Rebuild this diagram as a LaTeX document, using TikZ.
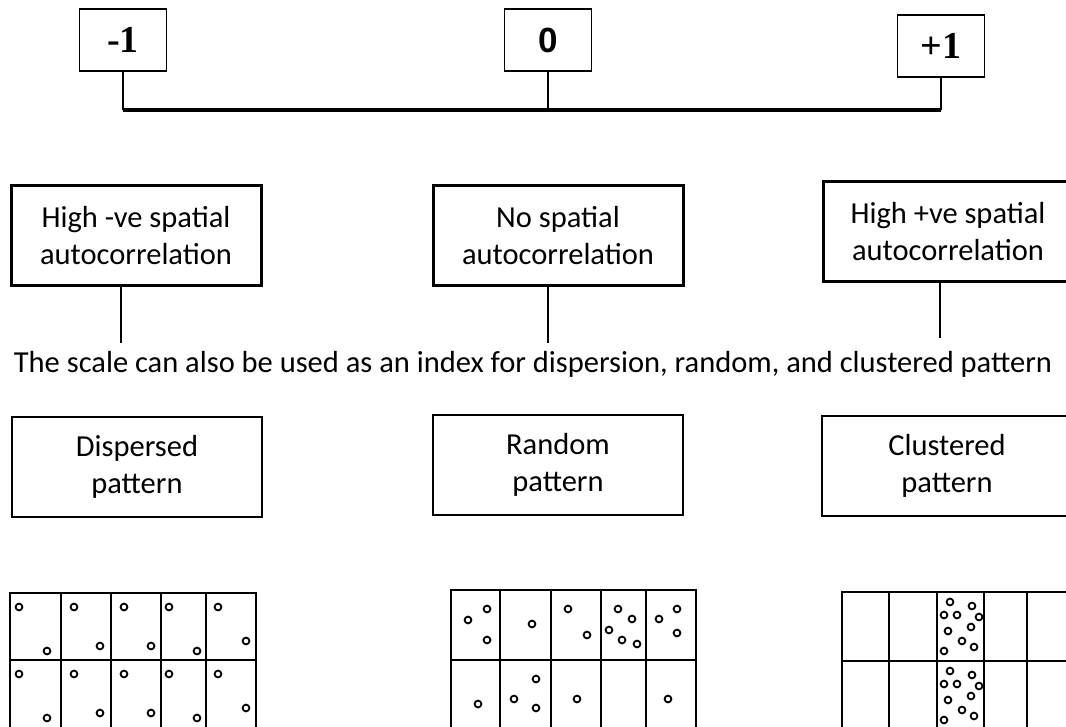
\documentclass[tikz,border=0pt]{standalone}
\usepackage{fontspec}
\setmainfont{Carlito}
\newfontfamily\timesfont{Liberation Serif}
\newfontfamily\arialfont{Liberation Sans}
\usetikzlibrary{positioning}

\tikzset{
    numbox/.style={draw, line width=1.2pt, minimum width=87pt, minimum height=62pt, inner sep=0pt},
    labelbox/.style={draw, line width=3pt, minimum width=250pt, minimum height=100pt, inner sep=0pt, align=center},
    patbox/.style={draw, line width=1.3pt, minimum width=250pt, minimum height=100pt, inner sep=0pt, align=center},
    stem/.style={line width=2pt},
    grid/.style={line width=1.8pt},
    dot/.style={line width=1.8pt}
}

\begin{document}
\begin{tikzpicture}[x=1pt,y=-1pt,font=\fontsize{30.5}{37}\selectfont]
\useasboundingbox (0,0) rectangle (1066,727);
\clip (0,0) rectangle (1066,727);

% Scale values
\node[numbox] (m1) at (123,40) {\timesfont\bfseries\fontsize{38}{38}\selectfont -1};
\node[numbox] (zero) at (548,40) {\arialfont\bfseries\fontsize{35}{35}\selectfont 0};
\node[numbox] (p1) at (941,46) {\timesfont\bfseries\fontsize{38}{38}\selectfont +1};

% Scale line
\coordinate (axis) at (0,110);
\draw[stem] (m1.south) -- (m1.south |- axis);
\draw[stem] (zero.south) -- (zero.south |- axis);
\draw[stem] (p1.south) -- (p1.south |- axis);
\draw[line width=4pt] (m1.south |- axis) -- (p1.south |- axis);

% Meaning of the values
\node[labelbox] (neg) at (136,236) {High -ve spatial\\autocorrelation};
\node[labelbox] (none) at (558,236) {No spatial\\autocorrelation};
\node[labelbox] (pos) at (948,232) {High +ve spatial\\autocorrelation};

\coordinate (s1) at (121,343);
\coordinate (s2) at (548,343);
\coordinate (s3) at (940,338);
\draw[stem] (s1 |- neg.south) -- (s1);
\draw[stem] (s2 |- none.south) -- (s2);
\draw[stem] (s3 |- pos.south) -- (s3);

\node[anchor=base] (note) at (533,373) {The scale can also be used as an index for dispersion, random, and clustered pattern};

% Patterns
\node[patbox] (disp) at (137,467) {Dispersed\\pattern};
\node[patbox] (rand) at (558,465) {Random\\pattern};
\node[patbox] (clus) at (947,466) {Clustered\\pattern};

% Dispersed grid
\draw[grid] (10,593) rectangle (256,735);
\draw[grid] (10,660) -- (256,660);
\foreach \x in {61,111,161,206}
    \draw[grid] (\x,593) -- (\x,735);
\foreach \dy in {0,67}
    \foreach \cx/\cy in {19/607,47/651,74/607,100/646,124/607,151/646,169/607,197/651,218/607,246/641}
        \draw[dot] (\cx,\cy+\dy) circle[radius=3.4];

% Random grid
\draw[grid] (451,590) rectangle (696,735);
\draw[grid] (451,660) -- (696,660);
\foreach \x in {500,551,601,646}
    \draw[grid] (\x,590) -- (\x,735);
\foreach \cx/\cy in {468/620,487/609,487/640,532/624,568/609,587/635,618/609,632/619,609/630,622/640,637/644,659/619,677/609,677/633,
    478/704,536/679,514/699,536/708,577/699,668/699}
    \draw[dot] (\cx,\cy) circle[radius=3.4];

% Clustered grid
\draw[grid] (842,592) rectangle (1075,735);
\draw[grid] (842,661) -- (1075,661);
\foreach \x in {889,937,984,1027}
    \draw[grid] (\x,592) -- (\x,735);
\foreach \dy in {0,69}
    \foreach \cx/\cy in {950/602,972/606,944/615,957/615,979/617,971/627,948/631,962/641,974/647,944/651}
        \draw[dot] (\cx,\cy+\dy) circle[radius=3.4];

\end{tikzpicture}
\end{document}
